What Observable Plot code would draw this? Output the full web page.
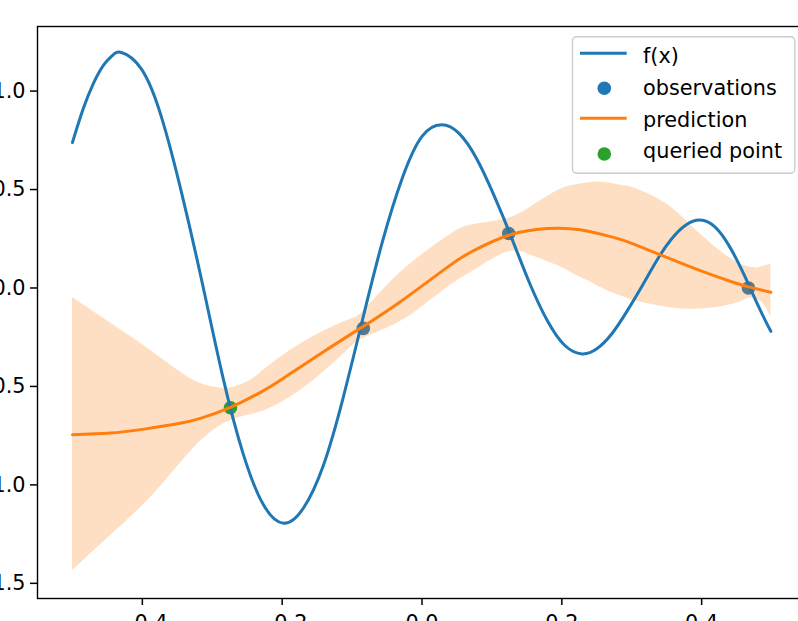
<!DOCTYPE html>
<html><head><meta charset="utf-8">
<script src="https://cdn.jsdelivr.net/npm/d3@7"></script>
<script src="https://cdn.jsdelivr.net/npm/@observablehq/plot@0.6"></script>
<style>
html,body{margin:0;padding:0;background:#fff;overflow:hidden;width:798px;height:621px;}
#wrap{position:relative;width:798px;height:621px;overflow:hidden;}
#chart{width:807px;}
#chart svg{display:block;max-width:none !important;}
#legend{position:absolute;left:0;top:0;}
</style></head><body>
<div id="wrap"><div id="chart"></div><svg id="legend" width="798" height="621"></svg></div>
<script>
// true function f(x)
const fX = [-0.500,-0.485,-0.470,-0.455,-0.443,-0.430,-0.401,-0.372,-0.343,-0.314,-0.285,-0.256,-0.227,-0.198,-0.170,-0.141,-0.113,-0.085,-0.057,-0.028,0.000,0.028,0.053,0.078,0.103,0.129,0.154,0.179,0.204,0.229,0.250,0.271,0.292,0.314,0.335,0.356,0.377,0.398,0.419,0.440,0.461,0.482,0.499];
const fY = [0.739,0.906,1.039,1.134,1.180,1.196,1.110,0.860,0.470,0.020,-0.450,-0.840,-1.100,-1.195,-1.120,-0.900,-0.560,-0.160,0.230,0.560,0.770,0.829,0.785,0.658,0.470,0.247,0.024,-0.164,-0.291,-0.335,-0.309,-0.235,-0.125,0.005,0.135,0.245,0.319,0.345,0.310,0.210,0.065,-0.099,-0.220];

// GP prediction (mean)
const predX = [-0.500,-0.446,-0.400,-0.350,-0.317,-0.274,-0.231,-0.198,-0.150,-0.084,-0.031,0.040,0.074,0.124,0.179,0.226,0.274,0.303,0.350,0.398,0.446,0.470,0.499];
const predY = [-0.745,-0.737,-0.718,-0.690,-0.662,-0.606,-0.530,-0.458,-0.345,-0.195,-0.070,0.115,0.190,0.268,0.302,0.296,0.257,0.223,0.155,0.088,0.028,0.003,-0.022];

// confidence band
const bandX  = [-0.500,-0.422,-0.375,-0.327,-0.293,-0.274,-0.250,-0.231,-0.198,-0.150,-0.103,-0.084,-0.045,-0.007,0.040,0.074,0.121,0.155,0.193,0.217,0.241,0.265,0.288,0.303,0.350,0.398,0.446,0.467,0.479,0.489,0.499];
const bandHi = [-0.048,-0.234,-0.352,-0.468,-0.505,-0.508,-0.478,-0.430,-0.340,-0.236,-0.160,-0.118,0.030,0.150,0.270,0.322,0.352,0.410,0.492,0.522,0.536,0.534,0.519,0.508,0.426,0.274,0.139,0.108,0.102,0.110,0.122];
const bandLo = [-1.435,-1.181,-1.012,-0.815,-0.710,-0.674,-0.648,-0.630,-0.575,-0.454,-0.305,-0.255,-0.195,-0.115,0.012,0.088,0.181,0.168,0.115,0.071,0.030,-0.014,-0.045,-0.064,-0.098,-0.107,-0.081,-0.052,-0.060,-0.081,-0.149];

// observations and queried point
const obsX = [-0.084, 0.124, 0.467];
const obsY = [-0.205, 0.277, 0.000];
const queriedX = [-0.274];
const queriedY = [-0.608];

const xTicks = [-0.4, -0.2, 0.0, 0.2, 0.4];
const yTicks = [-1.5, -1.0, -0.5, 0.0, 0.5, 1.0];

const C0 = "#1f77b4", C1 = "#ff7f0e", C2 = "#2ca02c";

const fData = fX.map((x, i) => ({x, y: fY[i]}));
const predData = predX.map((x, i) => ({x, y: predY[i]}));
const bandData = bandX.map((x, i) => ({x, lo: bandLo[i], hi: bandHi[i]}));
const obsData = obsX.map((x, i) => ({x, y: obsY[i]}));
const qData = queriedX.map((x, i) => ({x, y: queriedY[i]}));

const fmt = d3.format(".1f");

const chart = Plot.plot({
  width: 807, height: 640,
  marginLeft: 37, marginRight: 1, marginTop: 26, marginBottom: 42,
  x: {domain: [-0.55, 0.55], label: null},
  y: {domain: [-1.577, 1.328], label: null},
  style: {fontFamily: "'DejaVu Sans', sans-serif", fontSize: "20.8px", color: "black", background: "white"},
  marks: [
    Plot.dot(obsData, {x: "x", y: "y", r: 6.8, fill: C0, stroke: "none"}),
    Plot.areaY(bandData, {x: "x", y1: "lo", y2: "hi", fill: C1, fillOpacity: 0.25, curve: "natural"}),
    Plot.dot(qData, {x: "x", y: "y", r: 6.8, fill: C2, stroke: "none"}),
    Plot.line(fData, {x: "x", y: "y", stroke: C0, strokeWidth: 3, curve: "natural"}),
    Plot.line(predData, {x: "x", y: "y", stroke: C1, strokeWidth: 3, curve: "natural"}),
    Plot.axisX({ticks: xTicks, tickSize: 7, tickPadding: 10, tickFormat: fmt, label: null, strokeWidth: 1.5}),
    Plot.axisY({ticks: yTicks, tickSize: 7, tickPadding: 5, tickFormat: fmt, label: null, strokeWidth: 1.5}),
    Plot.frame({stroke: "black", strokeWidth: 1.4})
  ]
});
document.getElementById("chart").appendChild(chart);

// legend
const legendItems = [
  {label: "f(x)", kind: "line", color: C0},
  {label: "observations", kind: "dot", color: C0},
  {label: "prediction", kind: "line", color: C1},
  {label: "queried point", kind: "dot", color: C2}
];
const lg = d3.select("#legend");
lg.append("rect").attr("x", 572.5).attr("y", 36.8).attr("width", 222.3).attr("height", 136.4)
  .attr("rx", 4).attr("fill", "white").attr("fill-opacity", 0.8).attr("stroke", "#cccccc").attr("stroke-width", 1.4);
const baselines = [63.3, 95, 126.7, 158.3];
const symY = [53.3, 88.3, 118.3, 154];
legendItems.forEach((it, i) => {
  if (it.kind === "line") {
    lg.append("line").attr("x1", 580).attr("x2", 626.7).attr("y1", symY[i]).attr("y2", symY[i])
      .attr("stroke", it.color).attr("stroke-width", 3);
  } else {
    lg.append("circle").attr("cx", 604.3).attr("cy", symY[i]).attr("r", 6.8).attr("fill", it.color);
  }
  lg.append("text").attr("x", 643).attr("y", baselines[i]).text(it.label)
    .attr("font-family", "'DejaVu Sans', sans-serif").attr("font-size", "20.8px").attr("fill", "black");
});
</script>
</body></html>
